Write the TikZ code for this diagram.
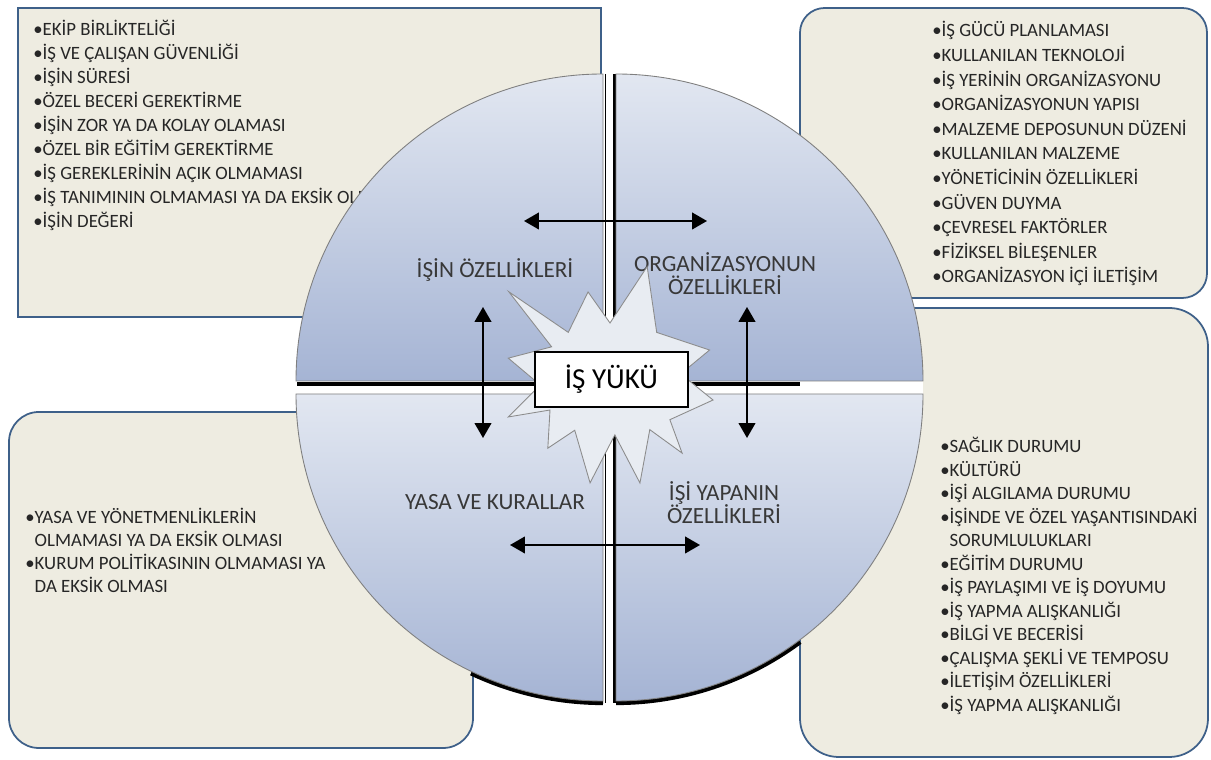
\documentclass[tikz,border=0pt]{standalone}
\usepackage{fontspec}
\setmainfont{Carlito}
\usetikzlibrary{arrows.meta}

\definecolor{boxfill}{HTML}{EEECE1}
\definecolor{boxline}{HTML}{3E6089}
\definecolor{quadtop}{HTML}{E2E7F1}
\definecolor{quadbot}{HTML}{A5B4D4}
\definecolor{quadline}{HTML}{7F7F7F}
\definecolor{burstfill}{HTML}{E8ECF2}
\definecolor{listtext}{HTML}{262626}

\tikzset{
  listbox/.style={draw=boxline, line width=1pt, fill=boxfill},
  item/.style={anchor=base west, inner sep=0pt, text=listtext, font=\fontsize{10.7}{12}\selectfont},
  quad/.style={draw=quadline, line width=0.5pt, top color=quadtop, bottom color=quadbot},
  quadlabel/.style={align=center, text=black!78, font=\fontsize{13.2}{13.2}\selectfont},
  twoway/.style={{Triangle[length=8.5pt,width=9.5pt]}-{Triangle[length=8.5pt,width=9.5pt]}, line width=1.1pt},
  burst/.style={draw=black!45, line width=0.5pt, fill=burstfill},
}

\begin{document}
\begin{tikzpicture}[x=0.02cm, y=0.02cm]
  \useasboundingbox (0,0) rectangle (1211,760);

  % boxes
  \draw[listbox] (18,443) rectangle (601,752);
  \draw[listbox, rounded corners=14pt] (800,462) rectangle (1207,752);
  \draw[listbox, rounded corners=22pt] (800,3) rectangle (1208,452);
  \draw[listbox, rounded corners=17pt] (9,12) rectangle (473,348);

  % lists
  \foreach \t [count=\i from 0] in {•EKİP BİRLİKTELİĞİ, •İŞ VE ÇALIŞAN GÜVENLİĞİ, •İŞİN SÜRESİ,
      •ÖZEL BECERİ GEREKTİRME, •İŞİN ZOR YA DA KOLAY OLAMASI, •ÖZEL BİR EĞİTİM GEREKTİRME,
      •İŞ GEREKLERİNİN AÇIK OLMAMASI, •İŞ TANIMININ OLMAMASI YA DA EKSİK OLMASI, •İŞİN DEĞERİ}
    \node[item] (tl\i) at (33,724-24*\i) {\t};
  \foreach \t [count=\i from 0] in {•İŞ GÜCÜ PLANLAMASI, •KULLANILAN TEKNOLOJİ, •İŞ YERİNİN ORGANİZASYONU,
      •ORGANİZASYONUN YAPISI, •MALZEME DEPOSUNUN DÜZENİ, •KULLANILAN MALZEME,
      •YÖNETİCİNİN ÖZELLİKLERİ, •GÜVEN DUYMA, •ÇEVRESEL FAKTÖRLER, •FİZİKSEL BİLEŞENLER,
      •ORGANİZASYON İÇİ İLETİŞİM}
    \node[item] (tr\i) at (932,723-24.6*\i) {\t};
  \foreach \t [count=\i from 0] in {•SAĞLIK DURUMU, •KÜLTÜRÜ, •İŞİ ALGILAMA DURUMU,
      •İŞİNDE VE ÖZEL YAŞANTISINDAKİ, {\hphantom{•}SORUMLULUKLARI}, •EĞİTİM DURUMU,
      •İŞ PAYLAŞIMI VE İŞ DOYUMU, •İŞ YAPMA ALIŞKANLIĞI, •BİLGİ VE BECERİSİ,
      •ÇALIŞMA ŞEKLİ VE TEMPOSU, •İLETİŞİM ÖZELLİKLERİ, •İŞ YAPMA ALIŞKANLIĞI}
    \node[item] (br\i) at (940,307-23.5*\i) {\t};
  \foreach \t [count=\i from 0] in {•YASA VE YÖNETMENLİKLERİN, {\hphantom{•}OLMAMASI YA DA EKSİK OLMASI},
      •KURUM POLİTİKASININ OLMAMASI YA, {\hphantom{•}DA EKSİK OLMASI}}
    \node[item] (bl\i) at (25,236-23*\i) {\t};

  % gaps and shadows
  \fill[white] (296,366) rectangle (923,379);
  \draw[line width=2.2pt] (297,376) -- (800,376);
  \draw[line width=1.1pt] (605.5,686) -- (605.5,57);
  \draw[line width=2.2pt] (614.5,686) -- (614.5,57);
  \draw[line width=2.4pt] (603,366) ++(244.7:309) arc[start angle=244.7, end angle=270, radius=309];
  \draw[line width=2.4pt] (616,366) ++(270:309) arc[start angle=270, end angle=306.6, radius=309];

  % quadrants
  \draw[quad] (603,379) -- (296,379) arc[start angle=180, end angle=90, radius=307] -- cycle;
  \draw[quad] (616,379) -- (616,686) arc[start angle=90, end angle=0, radius=307] -- cycle;
  \draw[quad] (603,366) -- (296,366) arc[start angle=180, end angle=270, radius=307] -- cycle;
  \draw[quad] (616,366) -- (616,59) arc[start angle=270, end angle=360, radius=307] -- cycle;

  \node[quadlabel] (isin) at (495,490) {İŞİN ÖZELLİKLERİ};
  \node[quadlabel] (org) at (725,486.5) {ORGANİZASYONUN\\ÖZELLİKLERİ};
  \node[quadlabel] (yasa) at (495,258) {YASA VE KURALLAR};
  \node[quadlabel] (yapan) at (724,257.5) {İŞİ YAPANIN\\ÖZELLİKLERİ};

  % arrows
  \coordinate (ta) at (524,539);
  \coordinate (tb) at (707,539);
  \coordinate (ba) at (510,215);
  \coordinate (bb) at (700,215);
  \coordinate (la) at (483,453);
  \coordinate (lb) at (483,322);
  \coordinate (ra) at (747,453);
  \coordinate (rb) at (747,322);
  \draw[twoway] (ta) -- (tb);
  \draw[twoway] (ba) -- (bb);
  \draw[twoway] (la) -- (lb);
  \draw[twoway] (ra) -- (rb);

  % centre
  \draw[burst, shift={(611,380)}] (168:105) -- (150.8:68) -- (139.2:135) -- (131.9:64)
    -- (104.6:91) -- (91:57) -- (72.3:119) -- (46.2:66) -- (16.9:103) -- (5:70)
    -- (-11.1:104) -- (-34:71) -- (-45.8:102) -- (-52:63) -- (-74.3:107) -- (-86:55)
    -- (-101.5:105) -- (-125.8:62) -- (-132.8:93) -- (-153.8:68) -- (-160.2:109)
    -- (-176:71) -- cycle;
  \node[draw, line width=0.8pt, fill=white, minimum width=3.06cm, minimum height=1.1cm,
    font=\fontsize{16.5}{19}\selectfont] (load) at (611.5,380.5) {İŞ YÜKÜ};
\end{tikzpicture}
\end{document}
